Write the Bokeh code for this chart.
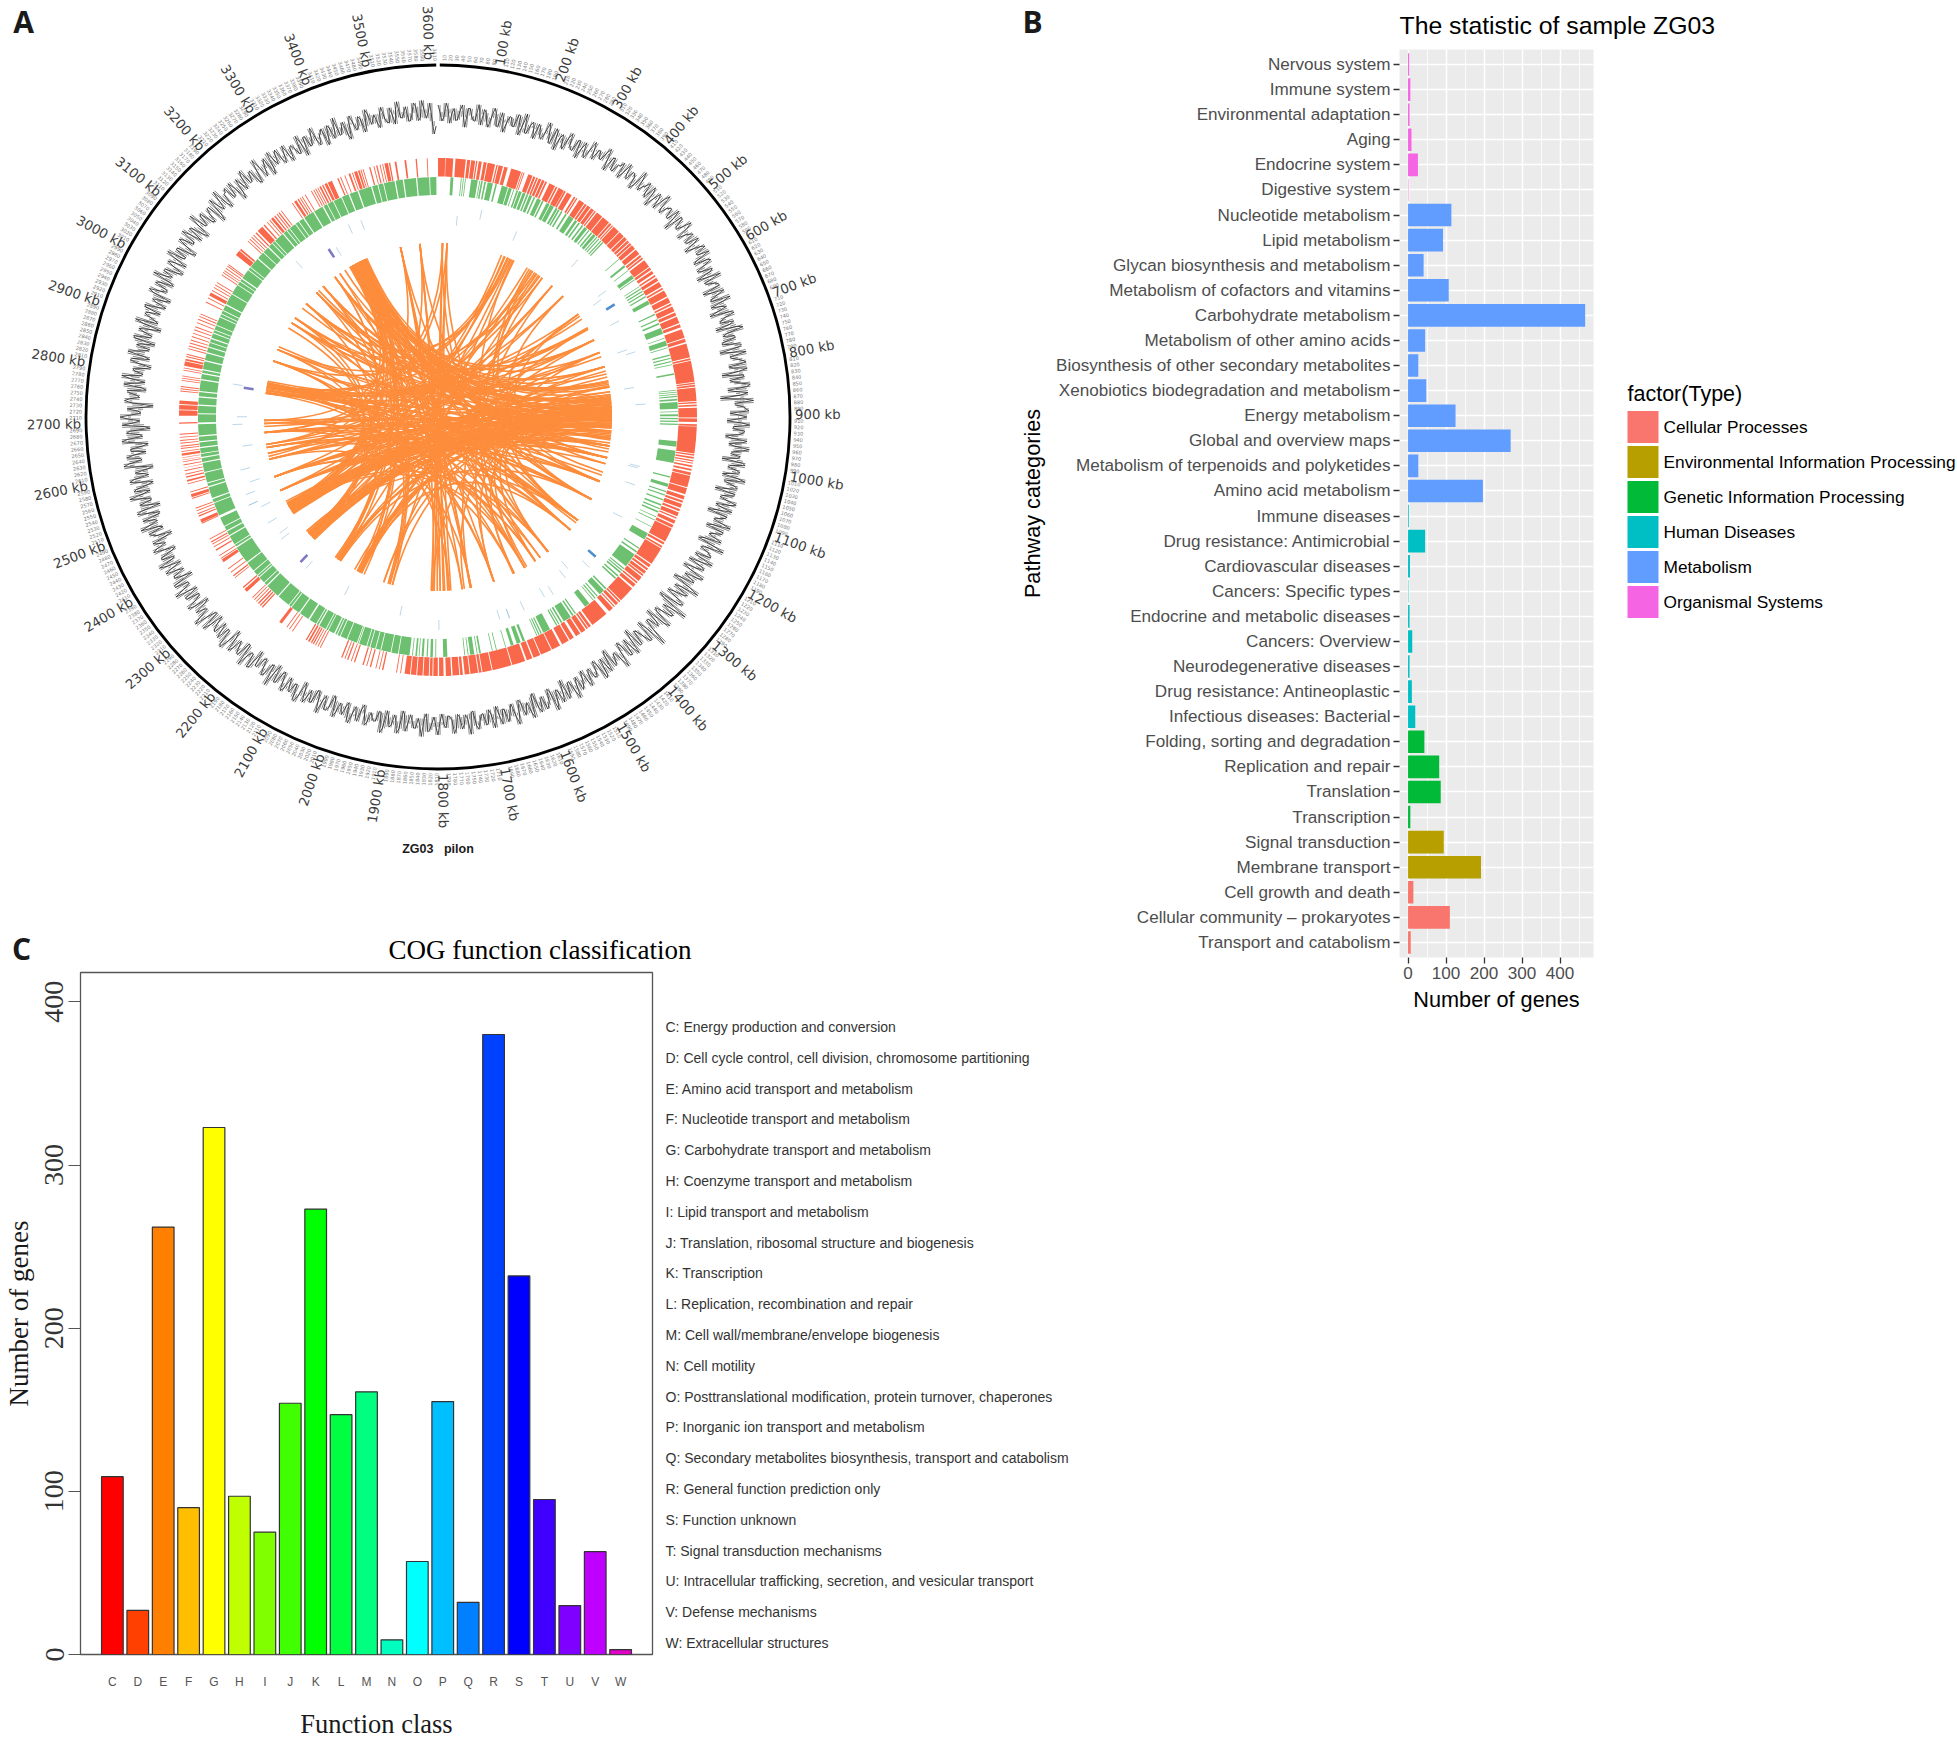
import math
from bokeh.core.properties import value
from bokeh.embed import file_html
from bokeh.layouts import column, row
from bokeh.models import ColumnDataSource, FactorRange, FixedTicker, Range1d, Title
from bokeh.plotting import figure
from bokeh.resources import INLINE

# ---------- Panel A: genome circle ----------
genome_kb = 3615
big_ticks_kb = list(range(100, 3601, 100))
small_ticks_kb = [k for k in range(10, 3611, 10) if k % 100]

gc_offset = [
 9,-7,11,-9,6,-5,10,-12,7,-4,12,-8,5,-9,11,-6,8,-11,6,-3,10,-10,13,-6,7,-9,4,-7,12,-5,9,-12,6,-8,11,-4,7,-10,9,-6,
 14,-3,9,1,16,-6,11,-2,7,-4,15,0,10,-5,18,-1,8,2,13,-7,12,-3,17,-2,9,1,14,-8,11,0,16,-4,8,-1,13,-6,10,2,15,-5,
 12,-6,9,-10,14,-3,7,-11,10,-5,13,-9,6,-13,11,-4,8,-12,15,-7,5,-10,9,-14,12,-3,7,-8,10,-16,6,-5,11,-12,8,-20,13,-4,5,-11,
 6,-14,9,-8,3,-15,7,-11,10,-6,2,-16,8,-9,4,-13,11,-7,5,-17,3,-10,8,-12,6,-18,1,-9,10,-14,4,-8,7,-16,13,-10,2,-12,9,-15,
 4,-17,8,-11,2,-19,12,-13,0,-16,6,-20,15,-10,3,-14,9,-18,1,-12,17,-16,5,-11,2,-19,7,-13,3,-15,11,-9,0,-17,5,-12,8,-14,2,-10,
 7,-12,2,-9,12,-8,4,-13,9,-6,14,-10,6,-5,10,-11,13,-4,8,-9,15,-7,5,-3,11,-8,13,-6,9,-2,12,-7,16,-4,10,-5,14,-3,8,-6,
 15,-3,10,-6,17,-1,9,-4,13,-7,16,-2,11,-5,18,-3,8,0,14,-6,12,-2,16,-4,10,-1,15,-6,11,-3,17,-5,9,-2,13,-7,16,-1,10,-4,
 13,-6,8,-9,16,-4,10,-7,6,-10,12,-3,15,-8,7,-5,11,-11,14,-4,9,-7,5,-9,13,-6,16,-3,8,-10,12,-5,7,-8,15,-4,10,-12,6,-7,
 11,-8,14,-5,7,-10,12,-3,9,-13,6,-7,15,-4,10,-9,13,-12,8,-5,16,-6,7,-11,12,-8,5,-14,15,-4,11,-9,6,-12,14,-7,9,-15,13,-5,
 15,-6,8,-18,11,-4,7,-10,13,-8,16,-5,6,-12,10,-9,14,-3,7,-11,12,-6,9,-13,15,-4,8,-7,11,-10,6,-12,13,-5,10,-8,16,-3,7,-11,
 9,-10,14,-5,7,-12,11,-4,13,-8,6,-11,16,-3,10,-7,8,-13,12,-5,15,-9,6,-4,11,-12,9,-6,13,-3,7,-10,14,-8,5,-11,12,-4,10,-7,
 10,-9,6,-5,12,-11,8,-3,13,-7,5,-10,9,-6,14,-4,7,-12,11,-5,8,-9,13,-3,6,-8,12,-4,10,-7,15,-2,9,-5,12,-6,14,-4,11,-20,
]
gc_offset_between = [
 2,-3,5,1,-6,4,-2,7,0,-5,3,8,-4,1,6,-7,2,-1,5,-3,9,-2,-6,3,1,7,-4,0,4,-8,6,2,-3,5,-1,-5,8,1,-2,3,
 6,8,2,11,5,9,-1,7,12,3,4,10,6,1,9,5,13,-2,8,4,7,11,3,6,10,0,5,12,2,7,9,4,11,1,6,3,14,5,-1,8,
 3,-2,6,1,-5,4,8,-3,2,-7,5,0,-4,7,1,-6,3,9,-2,4,-8,2,6,-1,-5,3,10,-3,1,5,-9,2,7,-4,0,4,-6,3,8,-2,
 -3,1,-7,4,-2,-9,2,-5,3,-8,-1,5,-6,0,-4,3,-10,1,-3,4,-7,-2,2,-6,-9,3,-4,1,-8,5,-3,0,-11,2,-5,-1,4,-7,-2,1,
 -5,-8,3,-2,-12,1,-6,4,-9,-3,2,-14,-1,5,-7,-10,3,-4,-11,0,-6,6,-3,-13,2,-8,-1,4,-10,-5,1,-7,3,-12,-2,5,-9,-4,0,-6,
 1,-4,6,-2,3,-7,8,0,-3,5,-6,2,9,-1,4,-8,7,1,-5,3,6,-2,10,-4,2,5,-1,7,-3,4,8,-5,1,6,-2,9,0,-4,5,2,
 7,3,12,-1,6,9,2,5,-3,11,4,8,1,13,-2,7,5,10,3,-1,8,6,12,1,4,9,-2,7,11,3,5,-4,10,6,2,8,13,0,5,9,
 4,-3,9,1,-6,7,2,-4,5,10,-2,3,-7,8,1,6,-3,4,11,-5,2,7,-1,5,-8,3,9,0,-4,6,2,-6,8,1,4,-3,10,-2,5,0,
 3,6,-2,8,-5,1,7,4,-6,2,9,-3,5,-1,-7,3,8,0,-4,6,2,10,-5,1,7,-3,-8,4,9,-2,3,6,-6,1,8,-4,5,-9,2,7,
 4,-3,-8,3,6,-1,9,-5,2,7,-2,4,-6,1,8,-3,5,-7,2,10,-4,3,-1,6,-8,2,5,9,-3,1,-5,7,2,-2,6,-4,3,8,-6,1,
 2,5,-3,8,-6,1,6,-2,4,9,-5,3,-1,7,-4,2,8,-6,1,4,-3,6,10,-2,3,-5,1,7,-3,5,-7,2,4,-1,9,-5,3,6,-2,1,
 -2,4,1,-6,3,7,-4,5,-1,2,8,-3,6,1,-5,3,-7,4,2,-2,5,-4,8,1,-3,6,0,-5,3,7,-1,4,-6,2,8,-3,5,1,-7,-12,
]

forward_genes = [
 (0,16),(17,34),(39,62),(65,72),(74,83),(85,88),(91,98),(102,109),(111,128),(131,134),(136,146),(149,157),(165,188),(190,192),(194,196),(205,215),(217,222),(224,228),(230,236),(238,244),(246,250),(256,270),(272,276),(279,292),(293,297),(300,312),(318,322),(324,327),(332,345),(347,352),(354,362),(364,372),(374,377),(380,395),(397,415),(417,422),(424,427),(429,445),(447,460),(462,470),(472,478),(480,485),(487,497),(500,512),(515,520),(522,526),(530,548),(550,556),(559,566),(570,574),(577,585),(588,600),(603,607),(610,625),(628,640),(643,647),(650,662),(665,672),(675,690),(693,700),(705,725),(727,735),(738,770),(772,776),(778,825),(827,830),(832,836),(838,868),(870,873),(876,880),(883,905),(907,915),(920,924),
 (925,985),(987,990),(993,997),(1000,1003),(1006,1008),(1012,1016),(1020,1024),(1028,1034),(1036,1062),(1064,1078),(1082,1090),(1093,1098),(1101,1110),(1113,1118),(1121,1130),(1133,1136),(1140,1148),(1151,1158),(1160,1192),(1195,1200),(1204,1208),(1210,1250),(1253,1260),(1263,1268),(1271,1278),(1280,1284),(1287,1298),(1301,1305),(1308,1316),(1320,1356),(1358,1362),(1365,1372),(1375,1378),(1381,1392),(1400,1440),(1444,1450),(1452,1456),(1459,1470),(1473,1484),(1490,1500),(1503,1520),(1525,1545),(1547,1572),(1574,1590),(1593,1606),(1610,1640),(1642,1685),(1687,1708),(1710,1716),(1718,1735),(1737,1748),(1752,1758),(1760,1775),(1778,1790),(1795,1805),(1808,1818),(1820,1826),(1828,1840),(1842,1854),(1856,1868),(1870,1882),
 (1890,1892),(1899,1901),(1930,1933),(1938,1940),(1946,1948),(1958,1961),(1967,1969),(1975,1978),(1995,1998),(2003,2005),(2011,2014),(2018,2020),(2025,2028),(2078,2080),(2084,2086),(2090,2092),(2095,2098),(2100,2103),(2106,2110),(2113,2116),(2150,2152),(2158,2160),(2165,2167),(2180,2187),(2235,2238),(2241,2244),(2247,2250),(2254,2256),(2260,2262),(2266,2268),(2285,2293),(2296,2299),(2325,2327),(2330,2333),(2340,2342),(2350,2352),(2369,2376),(2378,2380),(2385,2387),(2399,2402),(2408,2410),(2415,2417),(2420,2423),(2428,2430),(2467,2469),(2470,2477),(2484,2487),(2490,2492),(2497,2499),(2503,2505),(2526,2528),(2530,2537),(2541,2543),(2560,2562),(2566,2570),(2575,2578),(2582,2584),
 (2590,2592),(2597,2598),(2603,2605),(2610,2612),(2615,2616),(2620,2621),(2625,2630),(2633,2635),(2640,2642),(2645,2647),(2652,2654),(2658,2660),(2665,2667),(2672,2674),(2696,2699),
 (2714,2726),(2728,2738),(2740,2748),(2768,2770),(2773,2775),(2778,2780),(2792,2794),(2797,2799),(2802,2804),(2815,2817),(2820,2822),(2826,2836),(2838,2842),(2846,2848),(2851,2853),(2864,2866),(2870,2872),(2877,2879),(2884,2886),(2892,2894),(2900,2902),(2908,2910),(2915,2917),(2925,2927),(2933,2935),(2940,2942),(2946,2948),(2975,2977),(2985,2987),(2992,3000),(3004,3006),(3012,3014),(3018,3020),(3025,3027),(3045,3047),(3051,3053),(3056,3058),(3062,3064),(3068,3070),(3072,3074),(3100,3112),(3114,3118),(3140,3142),(3146,3148),(3152,3154),(3158,3160),(3165,3168),(3172,3186),(3190,3193),(3200,3202),(3207,3209),(3212,3218),(3221,3224),(3228,3230),(3233,3236),(3240,3242),(3270,3272),(3276,3282),(3285,3288),(3291,3293),(3296,3298),(3304,3306),(3320,3322),(3326,3328),(3331,3333),(3336,3338),(3341,3345),(3348,3351),(3354,3360),(3362,3372),(3385,3388),(3392,3394),(3402,3404),(3412,3416),(3420,3422),(3425,3432),(3434,3438),(3440,3442),(3445,3447),(3460,3463),(3470,3472),(3476,3479),(3484,3486),(3490,3492),(3495,3503),(3505,3508),(3518,3522),(3540,3544),(3565,3568),(3590,3592),
]

reverse_genes = [
 (30,37),(55,57),(60,62),(65,67),(80,96),(100,102),(104,108),(112,116),(120,133),(139,143),(155,170),(172,180),(184,186),(192,196),(198,205),(208,215),(218,222),(225,232),(236,240),(245,255),(258,262),(270,278),(280,290),(295,300),(302,306),(310,314),(322,326),(332,345),(350,356),(360,364),(370,374),(378,386),(390,393),(398,402),(405,412),(415,418),(421,424),(428,431),(434,437),
 (490,492),(510,515),(525,527),(540,549),(552,554),(572,574),(578,581),(585,588),(592,595),(600,603),(612,622),(648,651),(662,665),(672,676),(685,700),(710,712),(718,730),(734,736),(752,755),(760,763),(768,771),(776,778),(798,802),(838,840),(843,845),(848,850),(853,856),(860,864),(868,884),(890,892),(897,902),(906,909),(913,916),(920,923),
 (962,975),(985,1015),(1048,1051),(1066,1074),(1084,1087),(1093,1096),(1105,1108),(1118,1122),(1128,1131),(1136,1140),(1150,1152),(1158,1160),(1176,1178),(1195,1212),(1235,1238),(1245,1249),(1255,1290),(1296,1299),(1302,1305),(1308,1312),(1318,1322),(1326,1330),(1360,1364),(1368,1382),(1388,1391),(1395,1398),(1402,1404),(1415,1428),(1455,1458),(1462,1466),(1470,1490),(1494,1498),(1502,1505),(1508,1511),(1528,1546),(1550,1553),(1556,1559),(1562,1564),(1594,1600),(1605,1615),(1623,1630),(1642,1644),(1665,1667),(1675,1677),(1704,1708),(1712,1714),(1720,1730),(1734,1736),(1742,1744),(1785,1795),(1812,1814),(1820,1826),(1832,1835),(1842,1847),(1852,1854),(1858,1862),(1868,1870),
 (1876,1902),(1904,1920),(1922,1945),(1947,1958),(1960,1972),(1974,1980),(1982,2000),(2002,2004),(2006,2030),(2032,2048),(2050,2056),(2058,2062),(2065,2080),(2082,2086),(2088,2105),(2108,2112),(2114,2132),(2136,2160),(2163,2185),(2187,2192),(2194,2225),(2228,2262),(2265,2272),(2274,2290),(2292,2296),(2298,2310),(2312,2335),(2338,2380),(2383,2388),(2390,2412),(2415,2425),(2428,2438),(2440,2462),(2468,2500),(2502,2510),(2513,2540),(2543,2550),(2552,2576),(2578,2600),(2603,2612),(2615,2622),(2624,2636),(2639,2650),(2653,2664),(2667,2694),(2698,2718),
 (2720,2738),(2741,2758),(2761,2771),(2774,2800),(2803,2815),(2818,2824),(2827,2846),(2849,2866),(2869,2880),(2883,2892),(2894,2902),(2905,2916),(2918,2924),(2926,2936),(2938,2958),(2960,2966),(2968,2975),(2977,2990),(2993,3020),(3022,3046),(3048,3056),(3058,3064),(3067,3090),(3092,3098),(3100,3125),(3128,3145),(3147,3162),(3165,3176),(3178,3184),(3186,3210),(3213,3222),(3224,3230),(3232,3248),(3250,3258),(3260,3272),(3275,3300),(3303,3326),(3329,3338),(3340,3354),(3356,3376),(3378,3395),(3398,3418),(3421,3452),(3455,3468),(3470,3482),(3484,3510),(3513,3530),(3533,3562),(3565,3594),(3596,3611),
]

rna_kb = [55,120,231,418,533,545,577,623,707,720,818,868,1042,1047,1095,1191,1321,1354,1400,1422,1476,1500,1566,1611,1637,1805,1916,2086,2220,2244,2330,2347,2390,2441,2460,2490,2520,2560,2626,2690,2712,2797,2803,3190,3283,3304,3364,3400]
rna_level = [346,363,345,361,360,344,359,351,343,356,339,356,356,353,357,359,361,366,342,352,363,358,363,366,363,365,346,344,344,342,340,336,343,339,358,355,340,350,338,352,344,336,356,362,343,339,364,362]
rna_strength = [0,0,0,0,0,0,2,0,0,0,0,0,0,0,0,0,2,0,0,0,0,0,0,1,0,0,0,0,0,3,0,0,0,0,1,0,0,0,0,0,0,3,0,0,3,0,0,0]

links = [
 (2372,800),(2378,912),(2384,990),(2390,830),(2396,935),(2402,770),(2408,1020),(2414,860),(2420,1060),(2376,955),(2388,750),(2400,1000),(2381,870),(2393,820),(2405,975),
 (2262,870),(2270,885),(2278,900),(2286,915),(2294,930),(2300,850),(2266,940),(2282,835),(2274,1000),
 (3312,760),(3320,850),(3328,790),(3336,880),(3344,820),(3352,905),(3360,980),(3368,785),(3316,805),(3340,735),(3356,1010),(3330,1060),(3348,685),(3324,640),(3364,1040),(3372,1090),
 (2800,1040),(2806,640),(2812,1100),(2818,600),(2824,1000),(2830,700),(2794,1187),(2790,735),(2822,1270),(2810,560),
 (2150,3340),(2165,3320),(2158,900),(2170,3360),(2075,3330),(2085,3350),(2060,3310),(2095,925),(2070,890),(1968,3355),(1975,3325),(1960,3345),(1990,880),(2155,870),(2080,905),
 (1825,3490),(1775,3555),(1790,15),(1785,3490),(1765,30),(1820,30),(1830,15),(1810,3555),
 (237,2410),(225,2290),(250,2160),(260,1970),(215,2380),(240,2820),
 (310,2400),(325,2270),(340,2820),(355,2080),(370,2590),(332,2660),(348,2510),
 (412,2460),(462,2620),(540,2810),(548,2380),(595,2800),(640,2570),(685,2690),(735,2820),(784,2510),(803,2460),(840,2680),(855,2620),
 (1040,2660),(975,2800),(1122,3310),(1187,3330),(1270,3040),(1280,3120),(1310,3170),(1413,3250),(1446,3200),(1466,3340),(1507,3060),(1547,2940),(1619,2900),(1697,3350),(1727,3320),(1770,3365),
 (1122,2820),(1187,2610),(1270,2820),(1310,2660),(1413,2400),(1466,2510),(1507,2800),(1697,3490),
 (2900,1000),(2940,950),(3040,920),(3060,875),(3120,830),(3170,910),(3200,865),(3250,795),(3270,885),(3490,1700),(3555,1800),
 (2460,970),(2510,935),(2570,915),(2610,890),(2660,960),(2690,910),
 (2580,3340),(2620,3315),(2700,3360),(2390,3345),(2400,3322),(2284,3330),(2395,3020),(2410,3250),(2290,2900),
 (880,3180),(900,3100),(845,3290),(915,2950),(925,2820),(870,2265),(885,2395),(895,2085),(905,1960),(860,1825),
 (890,1720),(870,1620),(935,1550),(855,1415),(910,1270),(880,2800),(915,2700),(930,2590),(845,2510),(900,2380),(950,2300),(965,2160),
 (595,1990),(640,2080),(685,2290),(735,2160),(412,2285),(462,2395),(540,2070),(370,1700),(1040,2380),(1000,2285),
 (237,2900),(228,3040),(246,3120),(255,1500),(318,1270),(330,1120),(345,1547),(360,2940),(412,1619),(462,1187),(540,1040),(595,3060),(640,3170),(685,1507),(735,3250),(784,3200),(803,1466),(840,3120),
 (1122,2460),(1187,2150),(1270,2290),(1310,2075),(1413,2800),(1446,2700),(1466,2610),(1507,2390),(1547,2510),(1619,2790),(1697,2660),(1727,2570),(1770,2820),
 (3040,2400),(3060,2280),(3120,2170),(3170,2070),(3200,1970),(3250,2380),(3270,1800),(2900,2270),(2940,2160),
 (3490,2400),(3555,2290),(15,2790),(30,1270),(3490,1310),(3555,1187),(15,1413),(30,2660),
 (3310,1040),(3335,1122),(3350,1270),(3365,1310),(3320,1413),(3345,1187),(3360,1507),(3330,1619),
 (2510,1000),(2570,1040),(2610,1122),(2660,1187),(2690,1270),(2460,1040),(2800,1310),(2815,1187),(2825,1122),
 (870,3040),(890,2900),(905,2660),(880,2570),(860,2510),(925,2460),(940,2390),(955,3170),(975,3060),(1000,3250),(845,3200),(830,2940),
]

# ---------- Panel B: KEGG pathway categories (top to bottom) ----------
pathway_names = ["Nervous system","Immune system","Environmental adaptation","Aging","Endocrine system","Digestive system",
 "Nucleotide metabolism","Lipid metabolism","Glycan biosynthesis and metabolism","Metabolism of cofactors and vitamins",
 "Carbohydrate metabolism","Metabolism of other amino acids","Biosynthesis of other secondary metabolites",
 "Xenobiotics biodegradation and metabolism","Energy metabolism","Global and overview maps",
 "Metabolism of terpenoids and polyketides","Amino acid metabolism","Immune diseases","Drug resistance: Antimicrobial",
 "Cardiovascular diseases","Cancers: Specific types","Endocrine and metabolic diseases","Cancers: Overview",
 "Neurodegenerative diseases","Drug resistance: Antineoplastic","Infectious diseases: Bacterial",
 "Folding, sorting and degradation","Replication and repair","Translation","Transcription","Signal transduction",
 "Membrane transport","Cell growth and death","Cellular community \u2013 prokaryotes","Transport and catabolism"]
pathway_genes = [3,6,4,9,26,1,114,92,41,107,466,45,27,48,125,270,27,197,2,45,5,1,4,11,4,10,19,43,82,86,6,94,192,14,110,7]
pathway_type = ["Organismal Systems"]*6 + ["Metabolism"]*12 + ["Human Diseases"]*9 + ["Genetic Information Processing"]*4 + \
               ["Environmental Information Processing"]*2 + ["Cellular Processes"]*3
type_names = ["Cellular Processes","Environmental Information Processing","Genetic Information Processing","Human Diseases","Metabolism","Organismal Systems"]
type_colors = ["#F8766D","#B79F00","#00BA38","#00BFC4","#619CFF","#F564E3"]

# ---------- Panel C: COG ----------
cog_letters = list("CDEFGHIJKLMNOPQRSTUVW")
cog_counts = [109,27,262,90,323,97,75,154,273,147,161,9,57,155,32,380,232,95,30,63,3]
cog_colors = ["#FF0000","#FF4000","#FF8000","#FFBF00","#FFFF00","#BFFF00","#80FF00","#40FF00","#00FF00","#00FF40","#00FF80",
              "#00FFBF","#00FFFF","#00BFFF","#0080FF","#0040FF","#0000FF","#4000FF","#8000FF","#BF00FF","#E000C8"]
cog_desc = ["C: Energy production and conversion","D: Cell cycle control, cell division, chromosome partitioning",
 "E: Amino acid transport and metabolism","F: Nucleotide transport and metabolism","G: Carbohydrate transport and metabolism",
 "H: Coenzyme transport and metabolism","I: Lipid transport and metabolism","J: Translation, ribosomal structure and biogenesis",
 "K: Transcription","L: Replication, recombination and repair","M: Cell wall/membrane/envelope biogenesis","N: Cell motility",
 "O: Posttranslational modification, protein turnover, chaperones","P: Inorganic ion transport and metabolism",
 "Q: Secondary metabolites biosynthesis, transport and catabolism","R: General function prediction only","S: Function unknown",
 "T: Signal transduction mechanisms","U: Intracellular trafficking, secretion, and vesicular transport","V: Defense mechanisms",
 "W: Extracellular structures"]

HEAD = "Open Sans"
SANS = "Liberation Sans"
SERIF = "Liberation Serif"

# ---------- build A (also carries the three panel letters) ----------
CX, CY = 437.5, 416.5
A_W, A_H = 1045, 965
pa = figure(width=A_W, height=A_H, output_backend="svg", toolbar_location=None, tools="", frame_align=False,
            x_range=Range1d(-CX, A_W - CX), y_range=Range1d(CY - A_H, CY),
            x_axis_location=None, y_axis_location=None, min_border=0,
            outline_line_color=None, border_fill_color=None, background_fill_color=None)
pa.grid.visible = False


def theta(kb):
    return 2 * math.pi * kb / genome_kb


def polar(kb, r):
    t = theta(kb)
    return r * math.sin(t), r * math.cos(t)


pa.arc(x=[0], y=[0], radius=[352], start_angle=math.pi / 2 + 0.005, end_angle=math.pi / 2 - 0.005,
       direction="anticlock", line_color="black", line_width=2.8)

gc_series = [v for pair in zip(gc_offset, gc_offset_between) for v in pair]
gc_step = genome_kb / len(gc_series)
gc_xy = [polar(i * gc_step, 303 + v) for i, v in enumerate(gc_series)]
pa.line([q[0] for q in gc_xy], [q[1] for q in gc_xy], line_color="#222222", line_width=0.8)
# the fine-scale swing of the window values, as radial strokes between every other sample
stroke = [polar((i + 1) * gc_step, 303 + gc_series[i]) + polar((i + 1) * gc_step, 303 + gc_series[i + 2])
          for i in range(len(gc_series) - 2)]
pa.segment([q[0] for q in stroke], [q[1] for q in stroke], [q[2] for q in stroke], [q[3] for q in stroke],
           line_color="#222222", line_width=0.55)


def draw_genes(genes, r0, r1, color):
    src = ColumnDataSource(dict(
        s=[math.pi / 2 - theta(b) for a, b in genes],
        e=[math.pi / 2 - theta(a) for a, b in genes],
        x=[0] * len(genes), y=[0] * len(genes)))
    pa.annular_wedge(x="x", y="y", inner_radius=r0, outer_radius=r1, start_angle="s", end_angle="e",
                     source=src, fill_color=color, line_color=None, direction="anticlock")


draw_genes(forward_genes, 240.5, 259, "#F9684B")
draw_genes(reverse_genes, 222, 240, "#6CC070")

rna_col = ["#B4D3E6", "#9CC4DE", "#4F8FCC", "#7C7AC4"]
rna_wid = [0.9, 1.0, 2.6, 2.6]
seg = [polar(k, (l / 1.755) - 5) + polar(k, (l / 1.755) + 5) for k, l in zip(rna_kb, rna_level)]
pa.segment([q[0] for q in seg], [q[1] for q in seg], [q[2] for q in seg], [q[3] for q in seg],
           line_color=[rna_col[s] for s in rna_strength], line_width=[rna_wid[s] for s in rna_strength])

R_LINK = 174
lk0 = [polar(a, R_LINK) for a, b in links]
lk1 = [polar(b, R_LINK) for a, b in links]
pa.quadratic(x0=[q[0] for q in lk0], y0=[q[1] for q in lk0], x1=[q[0] for q in lk1], y1=[q[1] for q in lk1],
             cx=[0] * len(links), cy=[0] * len(links), line_color="#FD8D3C", line_width=1.6)


def ring_text(kbs, fmt, r, size, color):
    for half in (0, 1):
        sel = [k for k in kbs if (k <= genome_kb / 2) == (half == 0)]
        xy = [polar(k, r) for k in sel]
        ang = [(math.pi / 2 - theta(k)) + (0 if half == 0 else math.pi) for k in sel]
        pa.text(x=[q[0] for q in xy], y=[q[1] for q in xy], text=[fmt.format(k) for k in sel], angle=ang,
                text_align="left" if half == 0 else "right", text_baseline="middle",
                text_font=value("DejaVu Sans"), text_font_size=size, text_color=color)


ring_text(small_ticks_kb, "{}", 356, "5px", "#808080")
ring_text(big_ticks_kb, "{} kb", 357, "13.3px", "#3c3c3c")

pa.text(x=[23 - CX, 1032 - CX, 21 - CX], y=[CY - 21, CY - 21, CY - 948], text=["A", "B", "C"],
        text_font=value(HEAD), text_font_style="bold", text_font_size="30px", text_align="center",
        text_baseline="middle", text_color="#1a1a1a")
pa.text(x=[0], y=[CY - 848], text=["ZG03\u00a0\u00a0\u00a0pilon"], text_font=value(SANS),
        text_font_style="bold", text_font_size="12.5px", text_align="center", text_baseline="middle",
        text_color="#1a1a1a")

# ---------- build B ----------
B_LEFT, B_RIGHT = 1008, 1720
F_L, F_R, F_T, F_B = 1399, 1593, 49, 957
B_RAISE = 8
pb = figure(width=B_RIGHT - B_LEFT, height=1020 + B_RAISE, output_backend="svg", toolbar_location=None, tools="",
            frame_align=False,
            y_range=FactorRange(*pathway_names[::-1], factor_padding=0, range_padding=0.2 / 36),
            x_range=Range1d(-22.5, 488), min_border_left=F_L - B_LEFT, min_border_right=B_RIGHT - F_R,
            min_border_top=F_T + B_RAISE, min_border_bottom=1020 - F_B,
            outline_line_color=None, background_fill_color="#EBEBEB", border_fill_color=None,
            margin=(-B_RAISE, 0, 0, B_LEFT - 1078))
pb.add_layout(Title(text="The statistic of sample ZG03", text_font=SANS, text_font_size="24.8px", text_font_style="normal",
                    text_color="black", standoff=21, offset=0, align="left"), "above")
pb.hbar(y=pathway_names, left=0, right=pathway_genes, height=0.9, line_color=None,
        fill_color=[type_colors[type_names.index(t)] for t in pathway_type])

pb.xaxis.ticker = FixedTicker(ticks=[0, 100, 200, 300, 400], minor_ticks=[50, 150, 250, 350, 450])
pb.xgrid.grid_line_color = "white"
pb.xgrid.grid_line_width = 1.5
pb.xgrid.minor_grid_line_color = "white"
pb.xgrid.minor_grid_line_width = 0.8
pb.ygrid.grid_line_color = "white"
pb.ygrid.grid_line_width = 1.5
for ax in (pb.xaxis[0], pb.yaxis[0]):
    ax.axis_line_color = None
    ax.major_tick_line_color = "#333333"
    ax.major_tick_line_width = 1.3
    ax.major_tick_in = 0
    ax.major_tick_out = 6
    ax.minor_tick_line_color = None
    ax.major_label_text_font = SANS
    ax.major_label_text_font_size = "17.1px"
    ax.major_label_text_color = "#4D4D4D"
    ax.axis_label_text_font = SANS
    ax.axis_label_text_font_size = "21.7px"
    ax.axis_label_text_font_style = "normal"
    ax.axis_label_text_color = "black"
pb.xaxis.axis_label = "Number of genes"
pb.yaxis.axis_label = "Pathway categories"
pb.yaxis.major_label_standoff = 3
pb.xaxis.major_label_standoff = 3
pb.yaxis.axis_label_standoff = 8
pb.xaxis.axis_label_standoff = 5

# legend of panel B as a strip of its own
S_LEFT, S_W, S_H = 1620, 1957 - 1620, 700
ps = figure(width=S_W, height=S_H, output_backend="svg", toolbar_location=None, tools="", frame_align=False,
            x_range=Range1d(S_LEFT, S_LEFT + S_W), y_range=Range1d(S_H, 0), x_axis_location=None, y_axis_location=None,
            min_border=0, outline_line_color=None, border_fill_color=None, background_fill_color=None,
            margin=(0, 0, 0, S_LEFT - B_RIGHT))
ps.grid.visible = False
key_y = [426.5 + 35 * i for i in range(len(type_names))]
ps.hbar(y=key_y, left=1627, right=1658, height=32, fill_color=type_colors, line_color=None)
ps.text(x=[1663] * len(type_names), y=key_y, text=type_names, text_font=value(SANS), text_font_size="17.3px",
        text_color="black", text_baseline="middle")
ps.text(x=[1627], y=[393], text=["factor(Type)"], text_font=value(SANS), text_font_size="21.5px", text_color="black",
        text_baseline="middle")

# ---------- build C ----------
C_TOP, C_BOTTOM = 920, 1700
C_H = C_BOTTOM - C_TOP
G_L, G_R, G_T, G_B = 79, 652, 972, 1654
pc = figure(width=700, height=C_H, output_backend="svg", toolbar_location=None, tools="", frame_align=False,
            x_range=FactorRange(*cog_letters, factor_padding=0, range_padding=1.508 / 21),
            y_range=Range1d(0, 418), min_border_left=G_L, min_border_right=700 - G_R,
            min_border_top=G_T - C_TOP, min_border_bottom=C_BOTTOM - G_B,
            outline_line_color="#555555", outline_line_width=1.3, background_fill_color="white",
            border_fill_color=None)
pc.add_layout(Title(text="COG function classification", text_font=SERIF, text_font_size="27px", text_font_style="normal",
                    text_color="black", standoff=15, offset=387 - G_L, align="left"), "above")
pc.vbar(x=cog_letters, top=cog_counts, width=0.853, fill_color=cog_colors, line_color="#333333", line_width=1.2)
pc.grid.visible = False
pc.yaxis.ticker = FixedTicker(ticks=[0, 100, 200, 300, 400], minor_ticks=[])
pc.yaxis.major_label_orientation = "vertical"
pc.yaxis.major_label_text_font = SERIF
pc.yaxis.major_label_text_font_size = "28px"
pc.yaxis.major_label_text_color = "#333333"
pc.yaxis.major_label_standoff = 5
pc.yaxis.major_tick_out = 12
pc.yaxis.major_tick_in = 0
pc.yaxis.major_tick_line_color = "#555555"
pc.yaxis.axis_line_color = None
pc.yaxis.minor_tick_line_color = None
pc.yaxis.axis_label = "Number of genes"
pc.yaxis.axis_label_text_font = SERIF
pc.yaxis.axis_label_text_font_size = "27px"
pc.yaxis.axis_label_text_font_style = "normal"
pc.yaxis.axis_label_text_color = "#1a1a1a"
pc.yaxis.axis_label_standoff = 9
pc.xaxis.major_tick_line_color = None
pc.xaxis.minor_tick_line_color = None
pc.xaxis.axis_line_color = None
pc.xaxis.major_label_text_font = SANS
pc.xaxis.major_label_text_font_size = "12px"
pc.xaxis.major_label_text_color = "#555555"
pc.xaxis.major_label_standoff = 14

# COG description list sits in a strip of its own beside the bars
CL_LEFT = 660
pl = figure(width=1078 - CL_LEFT, height=C_H, output_backend="svg", toolbar_location=None, tools="", frame_align=False,
            x_range=Range1d(0, 1078 - CL_LEFT), y_range=Range1d(C_H, 0), x_axis_location=None, y_axis_location=None,
            min_border=0, outline_line_color=None, border_fill_color=None, background_fill_color=None,
            margin=(0, 0, 0, CL_LEFT - 700))
pl.grid.visible = False
pl.text(x=[665 - CL_LEFT] * len(cog_desc), y=[1026.5 - C_TOP + 30.8 * i for i in range(len(cog_desc))], text=cog_desc,
        text_font=value(SANS), text_font_size="14px", text_color="#333333", text_baseline="middle")

# x title of panel C in a strip under the bars
pf = figure(width=700, height=1737 - C_BOTTOM, output_backend="svg", toolbar_location=None, tools="", frame_align=False,
            x_range=Range1d(0, 700), y_range=Range1d(1737, C_BOTTOM), x_axis_location=None, y_axis_location=None,
            min_border=0, outline_line_color=None, border_fill_color=None, background_fill_color=None)
pf.grid.visible = False
pf.text(x=[376], y=[1723], text=["Function class"], text_font=value(SERIF), text_font_size="26.5px",
        text_color="#1a1a1a", text_align="center", text_baseline="middle")

page = row(column(pa, row(pc, pl, margin=(C_TOP - A_H, 0, 0, 0)), pf), pb, ps)
open("out.html", "w").write(file_html(page, INLINE))
